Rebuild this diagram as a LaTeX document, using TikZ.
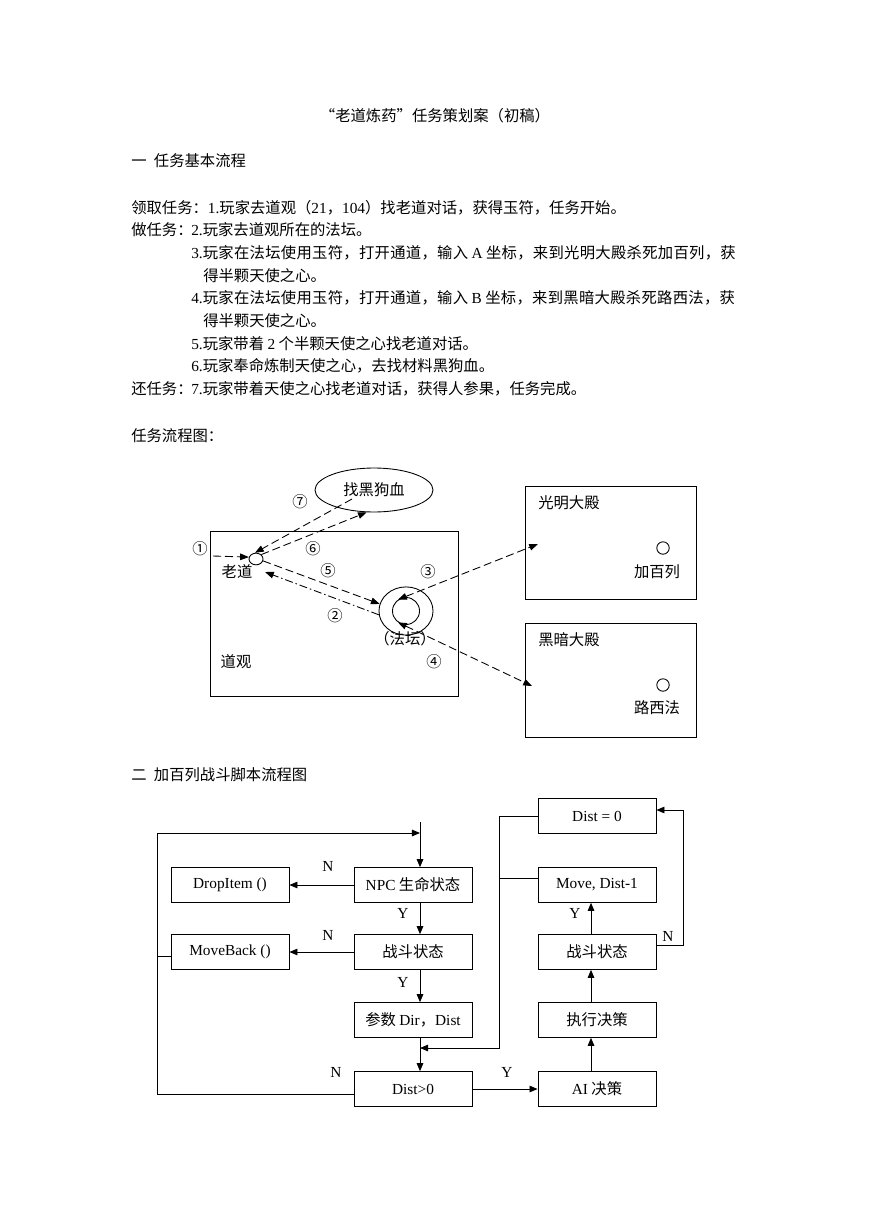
\documentclass[tikz,border=0pt]{standalone}
\usepackage{fontspec}
\setmainfont{Noto Sans CJK SC}
\newfontfamily\tm{Liberation Serif}
\newfontfamily\cjkwide[LetterSpace=1.9]{Noto Sans CJK SC}
\usetikzlibrary{arrows.meta,shapes.geometric}
\begin{document}
\begin{tikzpicture}[x=0.6847pt,y=-0.6847pt,
  font=\fontsize{10.5pt}{12pt}\selectfont,
  txt/.style={anchor=west,inner sep=0pt},
  lbl/.style={inner sep=0pt},
  ln/.style={line width=0.6pt},
  fbox/.style={draw,ln,minimum width=80.8pt,minimum height=23.8pt,inner sep=0pt},
  arr/.style={ln,-{Triangle[length=5.5pt,width=4.5pt]}},
  darr/.style={ln,dash pattern=on 5.5pt off 2.7pt,-{Triangle[length=6pt,width=4.5pt]}},
  dd/.style={ln,dash pattern=on 5.5pt off 2.7pt,{Triangle[length=6pt,width=4.5pt]}-{Triangle[length=6pt,width=4.5pt]}},
  ddot/.style={ln,dash pattern=on 5.5pt off 2pt on 1pt off 2pt,-{Triangle[length=6pt,width=4.5pt]}}
]
\useasboundingbox (0,0) rectangle (869,1228);
\fill[white] (0,0) rectangle (869,1228);

% ---------- text ----------
\node[lbl] (title) at (435,116) {“老道炼药”任务策划案（初稿）};
\node[txt] (sec1) at (131,161) {一\hspace{5pt}任务基本流程};
\node[txt] (l1) at (131,208) {领取任务：{\tm 1.}玩家去道观（{\tm 21}，{\tm 104}）找老道对话，获得玉符，任务开始。};
\node[txt] (l2a) at (131,230) {做任务：};
\node[txt] (l2) at (191,230) {{\tm 2.}玩家去道观所在的法坛。};
\node[txt] (l3) at (191,253) {{\tm 3.}{\cjkwide 玩家在法坛使用玉符，打开通道，输入} {\tm A} {\cjkwide 坐标，来到光明大殿杀死加百列，获}};
\node[txt] (l3b) at (203,276) {得半颗天使之心。};
\node[txt] (l4) at (191,298) {{\tm 4.}{\cjkwide 玩家在法坛使用玉符，打开通道，输入} {\tm B} {\cjkwide 坐标，来到黑暗大殿杀死路西法，获}};
\node[txt] (l4b) at (203,321) {得半颗天使之心。};
\node[txt] (l5) at (191,344) {{\tm 5.}玩家带着 {\tm 2} 个半颗天使之心找老道对话。};
\node[txt] (l6) at (191,366) {{\tm 6.}玩家奉命炼制天使之心，去找材料黑狗血。};
\node[txt] (l7a) at (131,389) {还任务：};
\node[txt] (l7) at (191,389) {{\tm 7.}玩家带着天使之心找老道对话，获得人参果，任务完成。};
\node[txt] (sec1b) at (131,436) {任务流程图：};
\node[txt] (sec2) at (131,775) {二\hspace{5pt}加百列战斗脚本流程图};

% ---------- quest map ----------
\node[draw,ln,ellipse,minimum width=80.8pt,minimum height=30.1pt,inner sep=0pt] (blood) at (374,490) {找黑狗血};
\node[draw,ln,minimum width=169.8pt,minimum height=113pt,inner sep=0pt] (temple) at (334,613.5) {};
\node[draw,ln,ellipse,minimum width=9.6pt,minimum height=8pt,inner sep=0pt] (ld) at (256,559) {};
\node[draw,ln,ellipse,minimum width=37pt,minimum height=33pt,inner sep=0pt] (altar) at (406,611) {};
\node[draw,ln,circle,minimum size=18.5pt,inner sep=0pt] (altin) at (406,611) {};
\node[draw,ln,minimum width=117.1pt,minimum height=77.4pt,inner sep=0pt] (hall1) at (610.5,542.5) {};
\node[draw,ln,minimum width=117.1pt,minimum height=78pt,inner sep=0pt] (hall2) at (610.5,680) {};
\node[draw,ln,circle,minimum size=8.5pt,inner sep=0pt] (gab) at (663,548) {};
\node[draw,ln,circle,minimum size=8.5pt,inner sep=0pt] (luc) at (663,685) {};

\node[lbl] (tld) at (237,572) {老道};
\node[lbl] (tdg) at (236,662) {道观};
\node[lbl] (tft) at (405,639) {（法坛）};
\node[txt] (th1) at (538,503) {光明大殿};
\node[lbl] (tgab) at (657,572) {加百列};
\node[txt] (th2) at (538,640) {黑暗大殿};
\node[lbl] (tluc) at (657,708) {路西法};

\node[lbl] (n1) at (200,549) {①};
\node[lbl] (n2) at (335,616) {②};
\node[lbl] (n3) at (428,572) {③};
\node[lbl] (n4) at (434,662) {④};
\node[lbl] (n5) at (328,571) {⑤};
\node[lbl] (n6) at (313,549) {⑥};
\node[lbl] (n7) at (300,502) {⑦};

\coordinate (s1) at (213,556);
\coordinate (b7) at (352,499);
\coordinate (c2) at (265,572);
\coordinate (h1) at (538,544);
\coordinate (h2) at (532,686);
\draw[darr] (s1) -- (ld.165);
\draw[darr] (b7) -- (ld.100);
\draw[darr] (ld.40) -- (blood.252);
\draw[darr] (ld.-15) -- (altar.165);
\draw[ddot] (altar.188) -- (c2);
\draw[dd] (altin.125) -- (h1);
\draw[dd] (altin.235) -- (h2);

% ---------- flow chart ----------
\node[fbox] (drop) at (230,885) {{\tm DropItem ()}};
\node[fbox] (npc) at (413,885) {{\tm NPC} 生命状态};
\node[fbox] (mb) at (230,952) {{\tm MoveBack ()}};
\node[fbox] (f1) at (413,952) {战斗状态};
\node[fbox] (par) at (413,1020) {参数 {\tm Dir}，{\tm Dist}};
\node[fbox] (dp) at (413,1089) {{\tm Dist>0}};
\node[fbox] (d0) at (597,816) {{\tm Dist = 0}};
\node[fbox] (mv) at (597,885) {{\tm Move, Dist-1}};
\node[fbox] (f2) at (597,952) {战斗状态};
\node[fbox] (ex) at (597,1020) {执行决策};
\node[fbox] (ai) at (597,1089) {{\tm AI} 决策};

\coordinate (xl) at (420,0);
\coordinate (xr) at (591,0);
\coordinate (topin) at (420,822);
\coordinate (lc) at (157,833);
\coordinate (vb) at (499,1048);
\coordinate (vin) at (420,1048);
\coordinate (nc) at (683,810);

\draw[arr] (topin) -- (npc.north -| xl);
\draw[arr] ([yshift=-3.4pt]dp.west) -| (lc) -- (lc -| xl);
\draw[ln] ([yshift=-3pt]mb.west) -- ([yshift=-3pt]mb.west -| lc);
\draw[arr] (npc.west) -- (drop.east);
\draw[arr] (f1.west) -- (mb.east);
\draw[arr] (npc.south -| xl) -- (f1.north -| xl);
\draw[arr] (f1.south -| xl) -- (par.north -| xl);
\draw[arr] (par.south -| xl) -- (dp.north -| xl);
\draw[arr] (d0.west) -| (vb) -- (vin);
\draw[ln] ([yshift=4.8pt]mv.west) -- ([yshift=4.8pt]mv.west -| vb);
\draw[arr] (dp.east) -- (ai.west);
\draw[arr] (ai.north -| xr) -- (ex.south -| xr);
\draw[arr] (ex.north -| xr) -- (f2.south -| xr);
\draw[arr] (f2.north -| xr) -- (mv.south -| xr);
\draw[arr] ([yshift=4.8pt]f2.east) -| (nc) -- (nc -| d0.east);

\node[lbl] (la) at (328,866) {\tm N};
\node[lbl] (lb) at (328,935) {\tm N};
\node[lbl] (lcy) at (403,913) {\tm Y};
\node[lbl] (ld2) at (403,982) {\tm Y};
\node[lbl] (le) at (336,1072) {\tm N};
\node[lbl] (lf) at (507,1072) {\tm Y};
\node[lbl] (lg) at (575,913) {\tm Y};
\node[lbl] (lh) at (668,936) {\tm N};
\end{tikzpicture}
\end{document}
